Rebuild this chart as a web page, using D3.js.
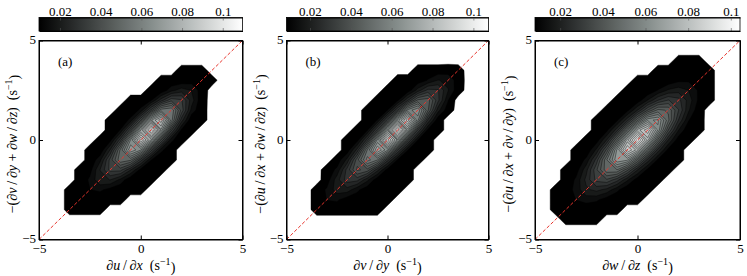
<!DOCTYPE html>
<html>
<head>
<meta charset="utf-8">
<script src="https://cdn.jsdelivr.net/npm/d3@7"></script>
<style>
  body { margin: 0; background: #fff; }
  text { font-family: "Liberation Serif", "DejaVu Serif", serif; }
</style>
</head>
<body>
<svg id="chart" width="747" height="276"></svg>
<script>
// bin centres of the joint pdf (s^-1), rows go from top (y = 4.5) to bottom
var gridX = [-4.5, -4, -3.5, -3, -2.5, -2, -1.5, -1, -0.5, 0, 0.5, 1, 1.5, 2, 2.5, 3, 3.5, 4, 4.5];
var gridY = [4.5, 4, 3.5, 3, 2.5, 2, 1.5, 1, 0.5, 0, -0.5, -1, -1.5, -2, -2.5, -3, -3.5, -4, -4.5];

// joint pdf in units of 1e-4, 0 = empty bin
var pdfA = [
  [0,0,0,0,0,0,0,0,0,0,0,0,0,0,0,0,0,0,0],
  [0,0,0,0,0,0,0,0,0,0,0,0,0,0,0,0,0,0,0],
  [0,0,0,0,0,0,0,0,0,0,0,0,0,100,100,100,0,0,0],
  [0,0,0,0,0,0,0,0,0,0,0,100,100,105,119,100,100,0,0],
  [0,0,0,0,0,0,0,0,0,0,100,103,179,223,193,119,0,0,0],
  [0,0,0,0,0,0,0,0,100,100,139,272,381,354,223,105,0,0,0],
  [0,0,0,0,0,0,0,100,100,162,356,577,594,381,179,100,0,0,0],
  [0,0,0,0,0,0,100,100,163,392,737,883,577,272,103,100,0,0,0],
  [0,0,0,0,0,0,100,150,372,748,1097,737,356,139,100,0,0,0,0],
  [0,0,0,0,0,100,128,320,652,956,748,392,162,100,0,0,0,0,0],
  [0,0,0,0,100,101,251,509,744,652,372,163,100,0,0,0,0,0,0],
  [0,0,0,0,100,184,367,537,509,320,150,100,100,0,0,0,0,0,0],
  [0,0,0,100,125,248,365,367,251,128,100,100,0,0,0,0,0,0,0],
  [0,0,0,100,159,236,248,184,101,100,100,0,0,0,0,0,0,0,0],
  [0,0,100,100,145,159,125,100,100,100,0,0,0,0,0,0,0,0,0],
  [0,0,100,100,100,100,100,100,0,0,0,0,0,0,0,0,0,0,0],
  [0,0,100,100,100,100,0,0,0,0,0,0,0,0,0,0,0,0,0],
  [0,0,0,0,0,0,0,0,0,0,0,0,0,0,0,0,0,0,0],
  [0,0,0,0,0,0,0,0,0,0,0,0,0,0,0,0,0,0,0]
];
var pdfB = [
  [0,0,0,0,0,0,0,0,0,0,0,0,0,0,0,0,0,0,0],
  [0,0,0,0,0,0,0,0,0,0,0,0,0,0,0,0,0,0,0],
  [0,0,0,0,0,0,0,0,0,0,0,0,100,100,100,109,100,0,0],
  [0,0,0,0,0,0,0,0,0,0,100,100,100,138,187,171,109,0,0],
  [0,0,0,0,0,0,0,0,0,100,100,100,204,299,290,187,100,0,0],
  [0,0,0,0,0,0,0,0,100,100,122,274,442,459,299,138,0,0,0],
  [0,0,0,0,0,0,0,100,100,135,329,596,675,442,204,100,0,0,0],
  [0,0,0,0,0,0,0,100,136,351,706,911,596,274,100,0,0,0,0],
  [0,0,0,0,0,0,100,128,337,713,1074,706,329,122,100,0,0,0,0],
  [0,0,0,0,0,100,113,301,642,961,713,351,135,100,0,0,0,0,0],
  [0,0,0,0,0,100,251,532,784,642,337,136,100,100,0,0,0,0,0],
  [0,0,0,0,100,198,412,602,532,301,128,100,100,0,0,0,0,0,0],
  [0,0,0,100,147,301,441,412,251,113,100,100,0,0,0,0,0,0,0],
  [0,0,0,105,212,309,301,198,100,100,100,100,0,0,0,0,0,0,0],
  [0,0,100,143,209,212,147,100,100,100,100,0,0,0,0,0,0,0,0],
  [0,0,100,136,143,105,100,100,100,100,0,0,0,0,0,0,0,0,0],
  [0,0,100,100,100,100,100,100,100,0,0,0,0,0,0,0,0,0,0],
  [0,0,0,0,0,0,0,0,0,0,0,0,0,0,0,0,0,0,0],
  [0,0,0,0,0,0,0,0,0,0,0,0,0,0,0,0,0,0,0]
];
var pdfC = [
  [0,0,0,0,0,0,0,0,0,0,0,0,0,0,0,0,0,0,0],
  [0,0,0,0,0,0,0,0,0,0,0,0,0,85,85,85,0,0,0],
  [0,0,0,0,0,0,0,0,0,0,0,85,85,85,85,85,85,0,0],
  [0,0,0,0,0,0,0,0,0,85,85,85,91,117,121,101,85,0,0],
  [0,0,0,0,0,0,0,0,85,85,85,133,185,205,177,121,85,0,0],
  [0,0,0,0,0,0,0,85,85,98,181,273,325,292,205,117,85,0,0],
  [0,0,0,0,0,0,85,85,114,225,371,481,458,325,185,91,0,0,0],
  [0,0,0,0,0,85,85,119,252,453,650,666,481,273,133,85,0,0,0],
  [0,0,0,0,0,85,115,252,485,776,890,650,371,181,85,85,0,0,0],
  [0,0,0,0,85,101,228,458,779,1043,776,453,225,98,85,0,0,0,0],
  [0,0,0,85,86,189,385,668,906,779,485,252,114,85,0,0,0,0,0],
  [0,0,0,85,144,295,513,699,668,458,252,119,85,85,0,0,0,0,0],
  [0,0,85,103,210,363,501,513,385,228,115,85,85,0,0,0,0,0,0],
  [0,0,85,140,241,338,363,295,189,101,85,85,0,0,0,0,0,0,0],
  [0,85,90,152,216,241,210,144,86,85,85,0,0,0,0,0,0,0,0],
  [0,85,91,131,152,140,103,85,85,85,0,0,0,0,0,0,0,0,0],
  [0,85,85,91,90,85,85,85,0,0,0,0,0,0,0,0,0,0,0],
  [0,0,85,85,85,85,0,0,0,0,0,0,0,0,0,0,0,0,0],
  [0,0,0,0,0,0,0,0,0,0,0,0,0,0,0,0,0,0,0]
];

var colorLimits = [[0.0097, 0.1097], [0.0085, 0.1074], [0.0082, 0.1043]];
var nLevels = 20;
var cbarTicks = [0.02, 0.04, 0.06, 0.08, 0.1];
var axisTicks = [-5, 0, 5];
var panelNames = ["(a)", "(b)", "(c)"];
var xLabels = ["∂u\u2009/\u2009∂x", "∂v\u2009/\u2009∂y", "∂w\u2009/\u2009∂z"];
var yLabels = ["−(∂v\u2009/\u2009∂y + ∂w\u2009/\u2009∂z)", "−(∂u\u2009/\u2009∂x + ∂w\u2009/\u2009∂z)", "−(∂u\u2009/\u2009∂x + ∂v\u2009/\u2009∂y)"];
var pdfs = [pdfA, pdfB, pdfC];

var svg = d3.select("#chart");
var serif = '"Liberation Serif", "DejaVu Serif", serif';
var plotX = [[39, 242.5], [286.5, 488.5], [535, 740]];
var plotTop = 40.5, plotBottom = 239.5;
var cbTop = 17.5, cbBottom = 31;
var step = gridX[1] - gridX[0];

var cmap = d3.scaleLinear().domain([0, 0.55, 1]).range(["#000000", "#858d8b", "#ffffff"]).clamp(true);

function mathLabel(text, str) {
    str.split(/([uvwxyz])/).forEach(function(part, k) {
        if (!part) return;
        text.append("tspan").attr("font-style", k % 2 ? "italic" : null).text(part);
    });
    text.append("tspan").text("\u2002(s");
    text.append("tspan").attr("dy", "-0.45em").attr("font-size", "72%").text("\u22121");
    text.append("tspan").attr("dy", "0.45em").text(")");
}

function styleAxis(g) {
    g.attr("font-family", serif).attr("font-size", 13);
    g.select(".domain").attr("stroke", "#000");
    g.selectAll(".tick line").attr("stroke", "#000");
    g.selectAll(".tick text").attr("fill", "#000");
}

pdfs.forEach(function(pdf, p) {
    var x0 = plotX[p][0], x1 = plotX[p][1];
    var lo = colorLimits[p][0] * 1e4, hi = colorLimits[p][1] * 1e4;
    var xs = d3.scaleLinear().domain([-5, 5]).range([x0, x1]);
    var ys = d3.scaleLinear().domain([-5, 5]).range([plotBottom, plotTop]);
    var g = svg.append("g");

    // grid index -> page pixels
    var proj = d3.geoTransform({
        point: function(gx, gy) {
            this.stream.point(xs(gridX[0] + (gx - 0.5) * step), ys(gridY[0] - (gy - 0.5) * step));
        }
    });
    var path = d3.geoPath(proj);

    // first level is the edge of the occupied bins, then evenly spaced levels
    var levels = [lo / 2].concat(d3.range(1, nLevels).map(function(k) { return lo + k * (hi - lo) / nLevels; }));
    var contours = d3.contours()
        .size([gridX.length, gridY.length])
        .thresholds(levels)(pdf.flat());

    g.selectAll("path.band")
        .data(contours)
        .enter().append("path")
        .attr("class", "band")
        .attr("d", path)
        .attr("fill", function(d) { return cmap(Math.max(0, d.value - lo) / (hi - lo)); })
        .attr("stroke", "#000")
        .attr("stroke-width", 0.5)
        .attr("stroke-opacity", 0.8);

    // 1:1 line
    g.append("line")
        .attr("x1", xs(-5)).attr("y1", ys(-5))
        .attr("x2", xs(5)).attr("y2", ys(5))
        .attr("stroke", "#e8342c")
        .attr("stroke-width", 1)
        .attr("stroke-dasharray", "3.5,2");

    // axes, ticks inward on all sides
    g.append("g").attr("transform", "translate(0," + plotBottom + ")")
        .call(d3.axisBottom(xs).tickValues(axisTicks).tickSizeInner(-4).tickSizeOuter(0).tickPadding(4))
        .call(styleAxis);
    g.append("g").attr("transform", "translate(0," + plotTop + ")")
        .call(d3.axisTop(xs).tickValues(axisTicks).tickSizeInner(-4).tickSizeOuter(0).tickFormat(""))
        .call(styleAxis);
    g.append("g").attr("transform", "translate(" + x0 + ",0)")
        .call(d3.axisLeft(ys).tickValues(axisTicks).tickSizeInner(-4).tickSizeOuter(0).tickPadding(3))
        .call(styleAxis)
        .call(function(a) { a.selectAll(".tick text").attr("dy", "0.25em"); });
    g.append("g").attr("transform", "translate(" + x1 + ",0)")
        .call(d3.axisRight(ys).tickValues(axisTicks).tickSizeInner(-4).tickSizeOuter(0).tickFormat(""))
        .call(styleAxis);

    g.append("text")
        .attr("x", x0 + 19).attr("y", plotTop + 25)
        .attr("font-size", 13)
        .text(panelNames[p]);

    var xl = g.append("text")
        .attr("x", (x0 + x1) / 2).attr("y", 270)
        .attr("text-anchor", "middle")
        .attr("font-size", 14);
    mathLabel(xl, xLabels[p]);

    var yl = g.append("text")
        .attr("transform", "translate(" + (x0 - 22) + "," + ((plotTop + plotBottom) / 2 + 4) + ") rotate(-90)")
        .attr("text-anchor", "middle")
        .attr("font-size", 14);
    mathLabel(yl, yLabels[p]);

    // colorbar
    var cs = d3.scaleLinear().domain([lo / 1e4, hi / 1e4]).range([x0, x1]);
    var grad = svg.append("defs").append("linearGradient")
        .attr("id", "cb" + p).attr("x1", "0%").attr("x2", "100%");
    grad.selectAll("stop")
        .data(d3.range(0, 1.0001, 0.05))
        .enter().append("stop")
        .attr("offset", function(d) { return d * 100 + "%"; })
        .attr("stop-color", function(d) { return cmap(d); });
    g.append("rect")
        .attr("x", x0).attr("y", cbTop)
        .attr("width", x1 - x0).attr("height", cbBottom - cbTop)
        .attr("fill", "url(#cb" + p + ")");
    g.append("g").attr("transform", "translate(0," + cbTop + ")")
        .call(d3.axisTop(cs).tickValues(cbarTicks).tickSizeInner(-3).tickSizeOuter(0).tickPadding(2).tickFormat(d3.format("~g")))
        .call(styleAxis)
        .call(function(a) { a.selectAll(".tick line").attr("stroke", "#555").attr("stroke-width", 0.6); });
    g.append("g").attr("transform", "translate(0," + cbBottom + ")")
        .call(d3.axisBottom(cs).tickValues(cbarTicks).tickSizeInner(-3).tickSizeOuter(0).tickFormat(""))
        .call(styleAxis)
        .call(function(a) { a.selectAll(".tick line").attr("stroke", "#555").attr("stroke-width", 0.6); });
    g.append("rect")
        .attr("x", x0).attr("y", cbTop)
        .attr("width", x1 - x0).attr("height", cbBottom - cbTop)
        .attr("fill", "none").attr("stroke", "#000").attr("stroke-width", 0.8);

    // frame
    g.append("rect")
        .attr("x", x0).attr("y", plotTop)
        .attr("width", x1 - x0).attr("height", plotBottom - plotTop)
        .attr("fill", "none").attr("stroke", "#000").attr("stroke-width", 1);
});
</script>
</body>
</html>
